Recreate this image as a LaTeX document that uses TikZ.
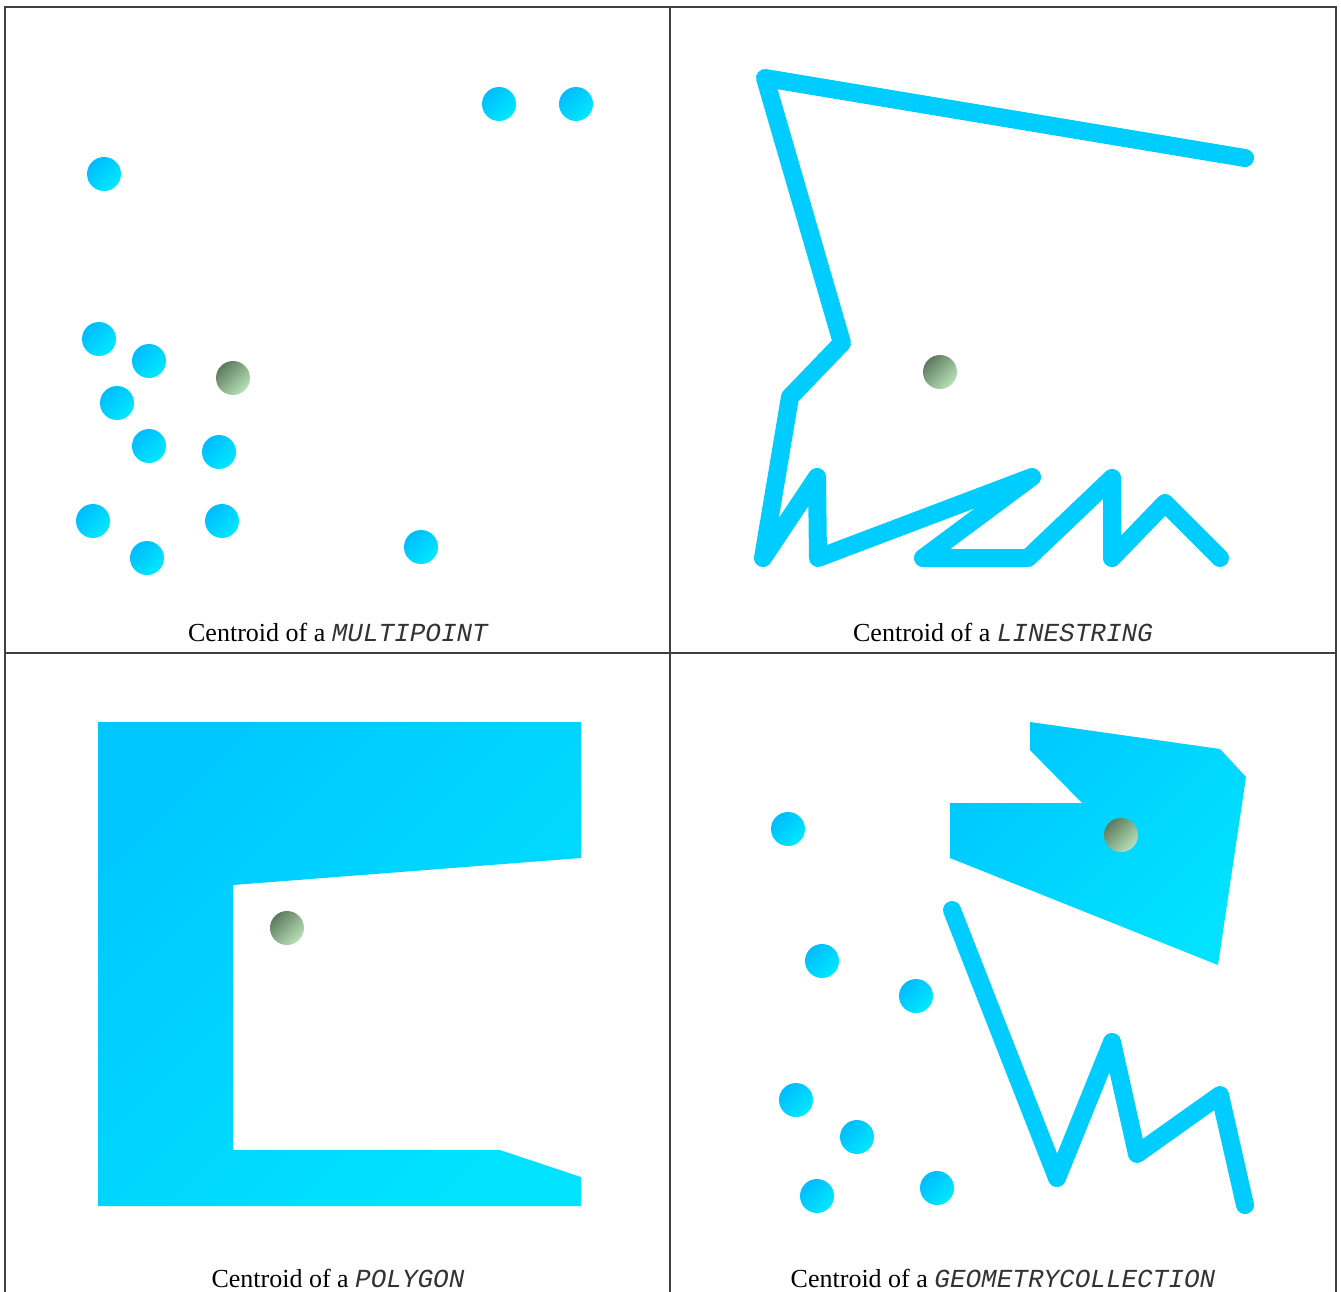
\documentclass[tikz,border=0pt]{standalone}
\usepackage{fontspec}
\setmainfont{Liberation Serif}
\setmonofont{Liberation Mono}
\definecolor{cyA}{HTML}{00BCFF}
\definecolor{cyB}{HTML}{00E8FF}
\definecolor{cyPA}{HTML}{00C8FF}
\definecolor{cyPB}{HTML}{00E2FF}
\definecolor{cyL}{HTML}{00CDFF}
\definecolor{grA}{HTML}{5E7A5E}
\definecolor{grB}{HTML}{B8E2B8}
\begin{document}
\begin{tikzpicture}[x=0.5pt,y=-0.5pt,
  pt/.style={circle,inner sep=0pt,minimum size=17pt,shade,top color=cyA,bottom color=cyB,shading angle=45},
  cent/.style={circle,inner sep=0pt,minimum size=17pt,shade,top color=grA,bottom color=grB,shading angle=45},
  lstr/.style={draw=cyL,line width=9pt,line cap=round,line join=round},
  poly/.style={shade,top color=cyPA,bottom color=cyPB,shading angle=45},
  frame/.style={draw=black!75,line width=1pt},
  captxt/.style={font=\fontsize{13}{15}\selectfont}]
\newcommand{\geomname}[1]{{\ttfamily\itshape\color{black!80}#1}}
\useasboundingbox (0,0) rectangle (1341,1292);
\fill[white] (0,0) rectangle (1341,1292);
% frames
\draw[frame] (5,1292) -- (5,7) -- (1336,7) -- (1336,1292);
\draw[frame] (670,7) -- (670,1292);
\draw[frame] (5,653) -- (1336,653);

% Panel 1: MULTIPOINT
\node[pt] (a1) at (499,104) {};
\node[pt] (a2) at (576,104) {};
\node[pt] (a3) at (104,174) {};
\node[pt] (a4) at (99,339) {};
\node[pt] (a5) at (149,361) {};
\node[pt] (a6) at (117,403) {};
\node[pt] (a7) at (149,446) {};
\node[pt] (a8) at (219,452) {};
\node[pt] (a9) at (93,521) {};
\node[pt] (a10) at (222,521) {};
\node[pt] (a11) at (147,558) {};
\node[pt] (a12) at (421,547) {};
\node[cent] (ac) at (233,378) {};
\node[captxt] (c1) at (338,632) {Centroid of a \geomname{MULTIPOINT}};

% Panel 2: LINESTRING
\draw[lstr] (1245,158) -- (765,78) -- (842,343) -- (790,397) -- (763,558) -- (817,477) -- (818,558) -- (1032,477) -- (923,558) -- (1028,558) -- (1112,478) -- (1112,558) -- (1165,503) -- (1220,558);
\node[cent] (bc) at (940,372) {};
\node[captxt] (c2) at (1003,632) {Centroid of a \geomname{LINESTRING}};

% Panel 3: POLYGON
\path[poly] (98,722) -- (581,722) -- (581,858) -- (233,885) -- (233,1150) -- (500,1150) -- (581,1177) -- (581,1206) -- (98,1206) -- cycle;
\node[cent] (cc) at (287,928) {};
\node[captxt] (c3) at (338,1278) {Centroid of a \geomname{POLYGON}};

% Panel 4: GEOMETRYCOLLECTION
\path[poly] (1030,722) -- (1220,749) -- (1246,777) -- (1218,965) -- (950,858) -- (950,803) -- (1082,803) -- (1030,750) -- cycle;
\draw[lstr] (952,910) -- (1057,1178) -- (1112,1042) -- (1137,1154) -- (1220,1095) -- (1245,1205);
\node[pt] (d1) at (788,829) {};
\node[pt] (d2) at (822,961) {};
\node[pt] (d3) at (916,996) {};
\node[pt] (d4) at (796,1100) {};
\node[pt] (d5) at (857,1137) {};
\node[pt] (d6) at (817,1196) {};
\node[pt] (d7) at (937,1188) {};
\node[cent] (dc) at (1121,835) {};
\node[captxt] (c4) at (1003,1278) {Centroid of a \geomname{GEOMETRYCOLLECTION}};
\end{tikzpicture}
\end{document}
